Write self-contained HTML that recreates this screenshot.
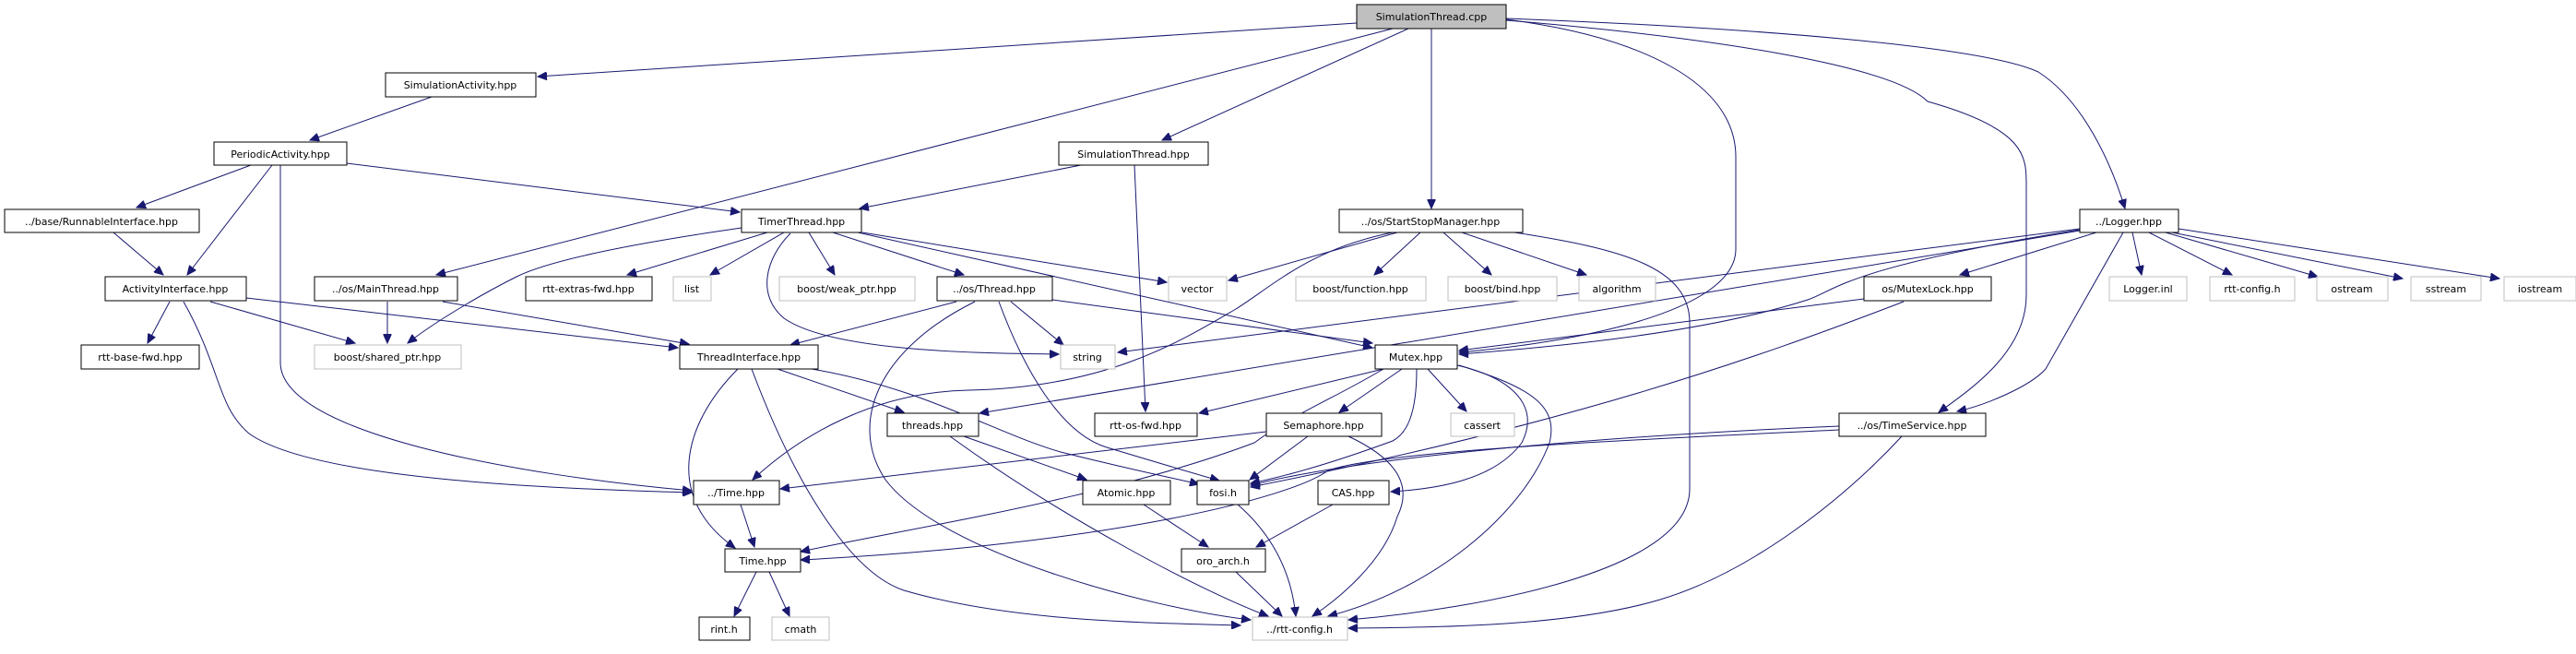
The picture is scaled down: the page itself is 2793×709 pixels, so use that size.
<!DOCTYPE html>
<html><head><meta charset="utf-8"><style>
html,body{margin:0;padding:0;background:#fff;}
svg{display:block;}
text{font-family:"DejaVu Sans","Liberation Sans",sans-serif;font-size:11px;text-anchor:middle;fill:#000;}
.n{fill:#fff;stroke:#000;stroke-width:1;}
.g{fill:#fff;stroke:#bfbfbf;stroke-width:1;}
path{fill:none;stroke:#191970;stroke-width:1;}
</style></head><body>
<svg width="2793" height="709" viewBox="0 0 2793 709" xmlns="http://www.w3.org/2000/svg">
<defs><marker id="a" markerUnits="userSpaceOnUse" markerWidth="11" markerHeight="9" refX="10" refY="4.5" orient="auto"><polygon points="0,0 10,4.5 0,9" fill="#191970" stroke="#191970"/></marker></defs>
<g marker-end="url(#a)">
<!-- SimulationThread.cpp -->
<path d="M1471,25 L583,83"/>
<path d="M1510,31 L473,298"/>
<path d="M1527,31 L1260,152"/>
<path d="M1552,31 L1552,226"/>
<path d="M1633,21 C1780,40 1882,90 1882,170 L1882,270 C1882,340 1700,372 1582,382"/>
<path d="M1633,20 C1900,30 2150,50 2210,78 C2260,110 2290,180 2304,226"/>
<path d="M1633,22 C1850,40 2050,70 2090,110 C2197,140 2197,170 2197,200 L2197,320 C2197,380 2140,420 2102,447"/>
<!-- SimulationActivity -->
<path d="M468,105 L336,152"/>
<!-- PeriodicActivity -->
<path d="M272,179 L148,225"/>
<path d="M295,179 L203,298"/>
<path d="M376,177 L802,230"/>
<path d="M304,179 L304,393 C304,470 560,515 750,532"/>
<!-- RunnableInterface -->
<path d="M123,252 L177,298"/>
<!-- ActivityInterface -->
<path d="M184,327 L160,372"/>
<path d="M228,327 L385,372"/>
<path d="M267,323 L735,377"/>
<path d="M199,327 C240,400 235,440 270,470 C340,520 600,530 750,534"/>
<!-- MainThread -->
<path d="M420,327 L420,372"/>
<path d="M480,327 L747,373"/>
<!-- TimerThread -->
<path d="M804,247 C700,262 600,280 560,300 C520,320 470,350 442,372"/>
<path d="M832,252 L680,298"/>
<path d="M850,252 L770,298"/>
<path d="M877,252 L905,298"/>
<path d="M903,252 L1045,298"/>
<path d="M935,252 L1265,306"/>
<path d="M930,252 L1488,377"/>
<path d="M857,253 C830,280 820,320 850,345 C900,380 1050,383 1148,384"/>
<!-- SimulationThread.hpp -->
<path d="M1172,179 L932,226"/>
<path d="M1230,179 L1242,446"/>
<!-- StartStopManager -->
<path d="M1515,252 L1332,304"/>
<path d="M1540,252 L1490,298"/>
<path d="M1565,252 L1617,298"/>
<path d="M1585,252 L1720,298"/>
<path d="M1642,252 C1760,270 1832,290 1832,350 L1832,530 C1832,620 1600,660 1462,672"/>
<path d="M1510,252 C1420,270 1380,310 1340,335 C1280,370 1200,420 1050,423 C950,425 870,470 816,520"/>
<!-- Logger -->
<path d="M2255,248 L1212,382"/>
<path d="M2255,250 L1062,448"/>
<path d="M2255,249 C2000,290 1990,315 1960,325 C1850,360 1700,375 1582,384"/>
<path d="M2273,252 L2125,298"/>
<path d="M2302,252 L2218,400 C2200,420 2150,440 2122,446"/>
<path d="M2312,252 L2322,298"/>
<path d="M2330,252 L2420,298"/>
<path d="M2348,252 L2513,300"/>
<path d="M2355,252 L2605,302"/>
<path d="M2362,248 L2710,302"/>
<!-- MutexLock -->
<path d="M2021,324 L1582,380"/>
<path d="M2064,327 C1900,390 1700,460 1356,528"/>
<!-- Thread.hpp -->
<path d="M1037,327 L857,374"/>
<path d="M1057,327 C950,380 920,460 960,520 C1020,600 1250,660 1356,672"/>
<path d="M1083,327 C1110,400 1150,470 1200,485 C1250,500 1300,515 1322,521"/>
<path d="M1096,327 L1153,374"/>
<path d="M1141,325 L1488,372"/>
<!-- ThreadInterface -->
<path d="M800,400 C740,460 720,540 797,594"/>
<path d="M815,400 C860,520 920,620 980,640 C1100,675 1250,675 1345,678"/>
<path d="M843,400 L980,447"/>
<path d="M880,400 C1000,420 1080,470 1150,490 C1230,510 1280,520 1300,525"/>
<!-- threads.hpp -->
<path d="M1045,473 L1178,520"/>
<path d="M1030,473 C1150,560 1300,640 1375,668"/>
<!-- Atomic etc -->
<path d="M1240,547 L1310,593"/>
<path d="M803,547 L818,593"/>
<path d="M820,620 L796,668"/>
<path d="M834,620 L856,668"/>
<path d="M1342,547 C1380,580 1400,620 1405,668"/>
<path d="M1340,620 L1390,668"/>
<!-- Mutex -->
<path d="M1500,400 L1300,448"/>
<path d="M1500,400 C1450,430 1400,450 1360,480 C1200,540 1000,570 868,598"/>
<path d="M1520,400 L1452,447"/>
<path d="M1548,400 L1590,446"/>
<path d="M1536,400 C1536,450 1525,470 1510,478 C1450,500 1400,515 1356,524"/>
<path d="M1580,396 C1640,410 1670,440 1650,480 C1620,520 1560,530 1508,533"/>
<path d="M1582,396 C1660,420 1690,440 1680,480 C1650,560 1550,640 1440,668"/>
<!-- Semaphore -->
<path d="M1373,468 L846,530"/>
<path d="M1418,473 L1355,520"/>
<path d="M1462,473 C1520,500 1530,530 1515,560 C1500,610 1450,650 1423,668"/>
<!-- CAS -->
<path d="M1445,547 L1362,593"/>
<!-- TimeService -->
<path d="M1994,466 C1700,480 1500,490 1440,510 C1400,540 1200,590 868,607"/>
<path d="M2062,473 C2000,540 1900,620 1800,650 C1700,680 1550,680 1462,681"/>
<path d="M1994,462 C1800,470 1500,490 1356,526"/>
</g>
<!-- nodes -->
<rect x="1471" y="5" width="162" height="26" fill="#bfbfbf" stroke="#000"/><text x="1552" y="22">SimulationThread.cpp</text>
<rect class="n" x="418" y="79" width="163" height="26"/><text x="499" y="96">SimulationActivity.hpp</text>
<rect class="n" x="232" y="154" width="144" height="25"/><text x="304" y="171">PeriodicActivity.hpp</text>
<rect class="n" x="1148" y="154" width="162" height="25"/><text x="1229" y="171">SimulationThread.hpp</text>
<rect class="n" x="5" y="227" width="211" height="25"/><text x="110" y="244">../base/RunnableInterface.hpp</text>
<rect class="n" x="804" y="227" width="130" height="25"/><text x="869" y="244">TimerThread.hpp</text>
<rect class="n" x="1452" y="227" width="199" height="25"/><text x="1551" y="244">../os/StartStopManager.hpp</text>
<rect class="n" x="2255" y="227" width="107" height="25"/><text x="2308" y="244">../Logger.hpp</text>
<rect class="n" x="114" y="300" width="153" height="26"/><text x="190" y="317">ActivityInterface.hpp</text>
<rect class="n" x="341" y="300" width="155" height="26"/><text x="418" y="317">../os/MainThread.hpp</text>
<rect class="n" x="570" y="300" width="137" height="26"/><text x="638" y="317">rtt-extras-fwd.hpp</text>
<rect class="g" x="730" y="300" width="41" height="26"/><text x="750" y="317">list</text>
<rect class="g" x="845" y="300" width="147" height="26"/><text x="918" y="317">boost/weak_ptr.hpp</text>
<rect class="n" x="1016" y="300" width="125" height="26"/><text x="1078" y="317">../os/Thread.hpp</text>
<rect class="g" x="1267" y="300" width="63" height="26"/><text x="1298" y="317">vector</text>
<rect class="g" x="1405" y="300" width="141" height="26"/><text x="1475" y="317">boost/function.hpp</text>
<rect class="g" x="1570" y="300" width="118" height="26"/><text x="1629" y="317">boost/bind.hpp</text>
<rect class="g" x="1712" y="300" width="83" height="26"/><text x="1753" y="317">algorithm</text>
<rect class="n" x="2021" y="300" width="138" height="26"/><text x="2090" y="317">os/MutexLock.hpp</text>
<rect class="g" x="2287" y="300" width="84" height="26"/><text x="2329" y="317">Logger.inl</text>
<rect class="g" x="2396" y="300" width="92" height="26"/><text x="2442" y="317">rtt-config.h</text>
<rect class="g" x="2512" y="300" width="77" height="26"/><text x="2550" y="317">ostream</text>
<rect class="g" x="2614" y="300" width="76" height="26"/><text x="2652" y="317">sstream</text>
<rect class="g" x="2715" y="300" width="78" height="26"/><text x="2754" y="317">iostream</text>
<rect class="n" x="88" y="374" width="128" height="26"/><text x="152" y="391">rtt-base-fwd.hpp</text>
<rect class="g" x="341" y="374" width="159" height="26"/><text x="420" y="391">boost/shared_ptr.hpp</text>
<rect class="n" x="737" y="374" width="150" height="26"/><text x="812" y="391">ThreadInterface.hpp</text>
<rect class="g" x="1150" y="374" width="59" height="26"/><text x="1179" y="391">string</text>
<rect class="n" x="1491" y="374" width="89" height="26"/><text x="1535" y="391">Mutex.hpp</text>
<rect class="n" x="962" y="448" width="99" height="25"/><text x="1011" y="465">threads.hpp</text>
<rect class="n" x="1187" y="448" width="111" height="25"/><text x="1242" y="465">rtt-os-fwd.hpp</text>
<rect class="n" x="1373" y="448" width="125" height="25"/><text x="1435" y="465">Semaphore.hpp</text>
<rect class="g" x="1573" y="448" width="69" height="25"/><text x="1607" y="465">cassert</text>
<rect class="n" x="1994" y="448" width="159" height="25"/><text x="2073" y="465">../os/TimeService.hpp</text>
<rect class="n" x="752" y="521" width="93" height="26"/><text x="798" y="538">../Time.hpp</text>
<rect class="n" x="1174" y="521" width="95" height="26"/><text x="1221" y="538">Atomic.hpp</text>
<rect class="n" x="1298" y="521" width="56" height="26"/><text x="1326" y="538">fosi.h</text>
<rect class="n" x="1429" y="521" width="77" height="26"/><text x="1467" y="538">CAS.hpp</text>
<rect class="n" x="786" y="595" width="82" height="25"/><text x="827" y="612">Time.hpp</text>
<rect class="n" x="1281" y="595" width="91" height="25"/><text x="1326" y="612">oro_arch.h</text>
<rect class="n" x="758" y="669" width="55" height="25"/><text x="785" y="686">rint.h</text>
<rect class="g" x="837" y="669" width="62" height="25"/><text x="868" y="686">cmath</text>
<rect class="g" x="1358" y="669" width="103" height="25"/><text x="1409" y="686">../rtt-config.h</text>
</svg>
</body></html>
